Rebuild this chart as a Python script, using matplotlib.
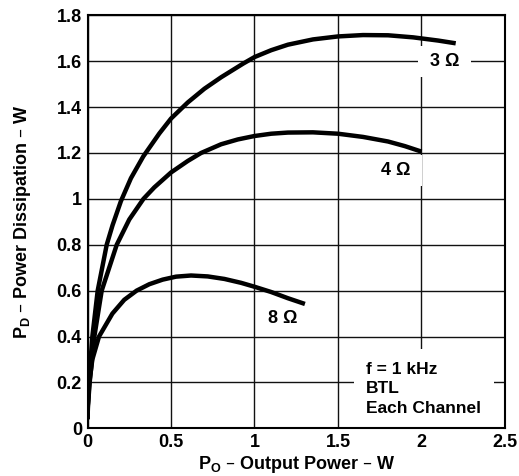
import matplotlib
matplotlib.use("Agg")
import matplotlib.pyplot as plt

plt.rcParams['font.family'] = ['Liberation Sans', 'DejaVu Sans']
plt.rcParams['font.weight'] = 'bold'

# Output power (W) and dissipation (W)
po_3 = [0.0, 0.002, 0.009, 0.029, 0.061, 0.115, 0.15, 0.20, 0.26, 0.334, 0.43, 0.5, 0.6, 0.7, 0.8, 0.933, 1.0, 1.1, 1.2, 1.35, 1.5, 1.65, 1.8, 1.95, 2.1, 2.205]
pd_3 = [0.04, 0.10, 0.20, 0.40, 0.60, 0.80, 0.885, 0.99, 1.09, 1.185, 1.285, 1.35, 1.42, 1.48, 1.53, 1.59, 1.618, 1.648, 1.672, 1.695, 1.708, 1.714, 1.713, 1.704, 1.69, 1.678]

po_4 = [0.0, 0.003, 0.013, 0.041, 0.085, 0.175, 0.25, 0.335, 0.4, 0.5, 0.6, 0.68, 0.8, 0.9, 1.0, 1.1, 1.2, 1.35, 1.5, 1.65, 1.8, 1.9, 2.0]
pd_4 = [0.04, 0.10, 0.20, 0.40, 0.60, 0.80, 0.91, 1.00, 1.05, 1.115, 1.165, 1.20, 1.238, 1.259, 1.274, 1.284, 1.289, 1.29, 1.284, 1.27, 1.25, 1.23, 1.206]

po_8 = [0.0, 0.002, 0.011, 0.029, 0.069, 0.149, 0.22, 0.294, 0.37, 0.45, 0.53, 0.62, 0.72, 0.82, 0.92, 1.0, 1.1, 1.2, 1.302]
pd_8 = [0.04, 0.10, 0.20, 0.30, 0.40, 0.50, 0.56, 0.60, 0.628, 0.648, 0.661, 0.666, 0.662, 0.651, 0.634, 0.617, 0.594, 0.567, 0.542]

curve_labels = ["3 \u03a9", "4 \u03a9", "8 \u03a9"]
x_ticks = [0, 0.5, 1, 1.5, 2, 2.5]
x_tick_labels = ["0", "0.5", "1", "1.5", "2", "2.5"]
y_ticks = [0, 0.2, 0.4, 0.6, 0.8, 1.0, 1.2, 1.4, 1.6, 1.8]
y_tick_labels = ["0", "0.2", "0.4", "0.6", "0.8", "1", "1.2", "1.4", "1.6", "1.8"]
note = "f = 1 kHz\nBTL\nEach Channel"

fig = plt.figure(figsize=(5.19, 4.76), dpi=100)
ax = fig.add_axes([0.1686, 0.1002, 0.8044, 0.8676])

ax.set_xlim(0, 2.5)
ax.set_ylim(0, 1.8)
ax.set_xticks(x_ticks)
ax.set_xticklabels(x_tick_labels)
ax.set_yticks(y_ticks)
ax.set_yticklabels(y_tick_labels)
ax.tick_params(length=0, labelsize=13)
ax.tick_params(axis='x', pad=4)
ax.tick_params(axis='y', pad=4)
for lab in ax.get_xticklabels() + ax.get_yticklabels():
    lab.set_fontweight('bold')
ax.grid(True, color='#111111', linewidth=1.0)
ax.set_axisbelow(True)
for s in ax.spines.values():
    s.set_linewidth(1.5)

for xs, ys in [(po_3, pd_3), (po_4, pd_4), (po_8, pd_8)]:
    ax.plot(xs, ys, color='black', linewidth=3.2, solid_capstyle='butt',
            solid_joinstyle='round', zorder=3)

bbox = dict(facecolor='white', edgecolor='none', pad=5)
ax.text(2.14, 1.598, " " + curve_labels[0] + " ", fontsize=13, fontweight='bold', ha='center', va='center', bbox=bbox, zorder=2.5)
ax.text(1.845, 1.124, " " + curve_labels[1] + " ", fontsize=13, fontweight='bold', ha='center', va='center', bbox=bbox, zorder=2.5)
ax.text(1.17, 0.48, curve_labels[2], fontsize=13, fontweight='bold', ha='center', va='center',
        bbox=dict(facecolor='white', edgecolor='none', pad=2), zorder=2.5)
ax.text(1.668, 0.172, note, fontsize=12.5, fontweight='bold', ha='left', va='center', linespacing=1.38,
        bbox=dict(facecolor='white', edgecolor='none', pad=9), zorder=2.5)

ax.set_xlabel("P$_\\mathregular{O}$ \u2013 Output Power \u2013 W", fontsize=13, fontweight='bold', labelpad=2)
ax.set_ylabel("P$_\\mathregular{D}$ \u2013 Power Dissipation \u2013 W", fontsize=13, fontweight='bold', labelpad=17)

fig.savefig("out.png", dpi=100)
